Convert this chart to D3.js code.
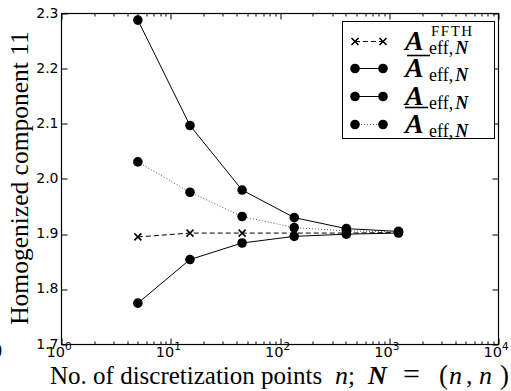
<!DOCTYPE html>
<html>
<head>
<meta charset="utf-8">
<script src="https://cdn.jsdelivr.net/npm/d3@7"></script>
<style>
  body { margin: 0; background: #fff; }
  svg { display: block; }
</style>
</head>
<body>
<div id="chart"></div>
<script>
const nPoints = [5, 15, 45, 135, 405, 1215]
const fftH = [1.895, 1.902, 1.902, 1.902, 1.902, 1.903]
const upperBound = [2.288, 2.097, 1.980, 1.930, 1.910, 1.905]
const lowerBound = [1.775, 1.854, 1.884, 1.896, 1.900, 1.902]
const averaged = [2.031, 1.976, 1.932, 1.912, 1.906, 1.904]
const yTicks = [1.7, 1.8, 1.9, 2.0, 2.1, 2.2, 2.3]
const xDecades = [0, 1, 2, 3, 4]

const width = 511
const height = 391
const margin = { top: 13.5, right: 12.5, bottom: 46.5, left: 61.5 }
const innerW = width - margin.left - margin.right
const innerH = height - margin.top - margin.bottom

const svg = d3.select('#chart').append('svg')
  .attr('width', width)
  .attr('height', height)

const g = svg.append('g')
  .attr('transform', `translate(${margin.left},${margin.top})`)

const x = d3.scaleLog().domain([1, 1e4]).range([0, innerW])
const y = d3.scaleLinear().domain([1.7, 2.3]).range([innerH, 0])

// minor + major ticks on the log axis (top and bottom, pointing in)
const minorX = []
for (let d = 0; d < 4; d++) {
  for (let k = 2; k <= 9; k++) minorX.push(k * Math.pow(10, d))
}
const majorX = xDecades.map(d => Math.pow(10, d))

const ticks = g.append('g').attr('stroke', '#000').attr('stroke-width', 1)
minorX.forEach(v => {
  const px = Math.round(x(v)) + 0.5
  ticks.append('line').attr('x1', px).attr('x2', px).attr('y1', innerH).attr('y2', innerH - 3)
  ticks.append('line').attr('x1', px).attr('x2', px).attr('y1', 0).attr('y2', 3)
})
majorX.forEach(v => {
  const px = Math.round(x(v)) + 0.5
  ticks.append('line').attr('x1', px).attr('x2', px).attr('y1', innerH).attr('y2', innerH - 6)
  ticks.append('line').attr('x1', px).attr('x2', px).attr('y1', 0).attr('y2', 6)
})
yTicks.forEach(v => {
  const py = Math.round(y(v)) + 0.5
  ticks.append('line').attr('x1', 0).attr('x2', 6).attr('y1', py).attr('y2', py)
  ticks.append('line').attr('x1', innerW).attr('x2', innerW - 6).attr('y1', py).attr('y2', py)
})

// frame
g.append('rect')
  .attr('x', 0).attr('y', 0)
  .attr('width', innerW).attr('height', innerH)
  .attr('fill', 'none').attr('stroke', '#000').attr('stroke-width', 1.2)

// y tick labels
g.append('g').selectAll('text')
  .data(yTicks)
  .join('text')
  .attr('x', -3)
  .attr('y', d => y(d) + 4)
  .attr('text-anchor', 'end')
  .attr('font-family', 'DejaVu Sans')
  .attr('font-size', '14px')
  .text(d => d.toFixed(1))

// x tick labels 10^k
const xl = g.append('g').selectAll('text')
  .data(xDecades)
  .join('text')
  .attr('x', d => x(Math.pow(10, d)) - 15)
  .attr('y', innerH + 12.5)
  .attr('font-family', 'DejaVu Sans')
  .attr('font-size', '14.5px')
xl.append('tspan').text('10')
xl.append('tspan').attr('dy', -7).attr('font-size', '10.5px').text(d => d)

// axis titles
svg.append('text')
  .attr('transform', `translate(28,${margin.top + innerH / 2 - 1}) rotate(-90)`)
  .attr('text-anchor', 'middle')
  .attr('font-family', 'Liberation Serif')
  .attr('font-size', '25.5px')
  .text('Homogenized component 11')

const xt = svg.append('text')
  .attr('y', 384)
  .attr('font-family', 'Liberation Serif')
  .attr('font-size', '25px')
xt.append('tspan').attr('x', 50).text('No. of discretization points')
xt.append('tspan').attr('x', 335).attr('font-style', 'italic').attr('font-size', '26px').text('n')
xt.append('tspan').text(';')
xt.append('tspan').attr('x', 368).attr('font-weight', 'bold').attr('font-style', 'italic').attr('font-size', '26px').text('N')
xt.append('tspan').attr('x', 403).attr('font-size', '30px').text('=')
xt.append('tspan').attr('x', 439).attr('font-size', '27px').text('(')
xt.append('tspan').attr('x', 449).attr('font-style', 'italic').attr('font-size', '26px').text('n')
xt.append('tspan').attr('x', 466).attr('font-size', '26px').text(',')
xt.append('tspan').attr('x', 479).attr('font-style', 'italic').attr('font-size', '26px').text('n')
xt.append('tspan').attr('x', 500).attr('font-size', '27px').text(')')

// cut-off glyph at the far left edge
svg.append('text')
  .attr('x', -7).attr('y', 357)
  .attr('font-family', 'Liberation Serif')
  .attr('font-size', '18px')
  .text('0')

// series
const series = [
  { values: fftH, marker: 'cross', dash: '5,3', color: '#000' },
  { values: upperBound, marker: 'dot', dash: null, color: '#000' },
  { values: lowerBound, marker: 'dot', dash: null, color: '#000' },
  { values: averaged, marker: 'dot', dash: '1,2', color: '#555' }
]

const line = d3.line()
  .x(d => x(d[0]))
  .y(d => y(d[1]))

series.forEach(s => {
  const pts = nPoints.map((n, i) => [n, s.values[i]])
  g.append('path')
    .datum(pts)
    .attr('d', line)
    .attr('fill', 'none')
    .attr('stroke', s.color)
    .attr('stroke-width', 1)
    .attr('stroke-dasharray', s.dash)
  if (s.marker === 'dot') {
    g.selectAll(null).data(pts).join('circle')
      .attr('cx', d => x(d[0]))
      .attr('cy', d => y(d[1]))
      .attr('r', 4.8)
      .attr('fill', '#000')
  } else {
    g.selectAll(null).data(pts).join('path')
      .attr('transform', d => `translate(${x(d[0])},${y(d[1])})`)
      .attr('d', 'M-3.5,-3.5L3.5,3.5M-3.5,3.5L3.5,-3.5')
      .attr('stroke', '#000')
      .attr('stroke-width', 1.6)
  }
})

// legend
const legend = svg.append('g')
legend.append('rect')
  .attr('x', 342.5).attr('y', 21.5)
  .attr('width', 152).attr('height', 117)
  .attr('fill', '#fff').attr('stroke', '#000').attr('stroke-width', 1)

const rowY = [41.5, 68.5, 96.5, 124.5]
series.forEach((s, i) => {
  const ry = rowY[i]
  legend.append('line')
    .attr('x1', 355).attr('x2', 383).attr('y1', ry).attr('y2', ry)
    .attr('stroke', s.color).attr('stroke-width', 1)
    .attr('stroke-dasharray', s.dash)
  ;[355, 383].forEach(mx => {
    if (s.marker === 'dot') {
      legend.append('circle').attr('cx', mx).attr('cy', ry).attr('r', 4.8).attr('fill', '#000')
    } else {
      legend.append('path')
        .attr('transform', `translate(${mx},${ry})`)
        .attr('d', 'M-3.5,-3.5L3.5,3.5M-3.5,3.5L3.5,-3.5')
        .attr('stroke', '#000').attr('stroke-width', 1.6)
    }
  })
  legend.append('text')
    .attr('x', 405).attr('y', ry + 8)
    .attr('font-family', 'Liberation Serif')
    .attr('font-size', '28px')
    .attr('font-weight', 'bold')
    .attr('font-style', 'italic')
    .text('A')
  const sub = legend.append('text')
    .attr('x', 429).attr('y', ry + 12)
    .attr('font-family', 'Liberation Serif')
    .attr('font-size', '18px')
  sub.append('tspan').text('eff,')
  sub.append('tspan').attr('dx', 2).attr('font-weight', 'bold').attr('font-style', 'italic').text('N')
})
legend.append('text')
  .attr('x', 431).attr('y', rowY[0] - 6)
  .attr('font-family', 'Liberation Serif')
  .attr('font-size', '15px')
  .attr('letter-spacing', '1.5px')
  .text('FFTH')
// overline / underline marks on the bound symbols
legend.append('line')
  .attr('x1', 407).attr('x2', 430).attr('y1', rowY[1] - 13).attr('y2', rowY[1] - 13)
  .attr('stroke', '#000').attr('stroke-width', 1.6)
legend.append('line')
  .attr('x1', 405).attr('x2', 428).attr('y1', rowY[2] + 11).attr('y2', rowY[2] + 11)
  .attr('stroke', '#000').attr('stroke-width', 1.6)
</script>
</body>
</html>
